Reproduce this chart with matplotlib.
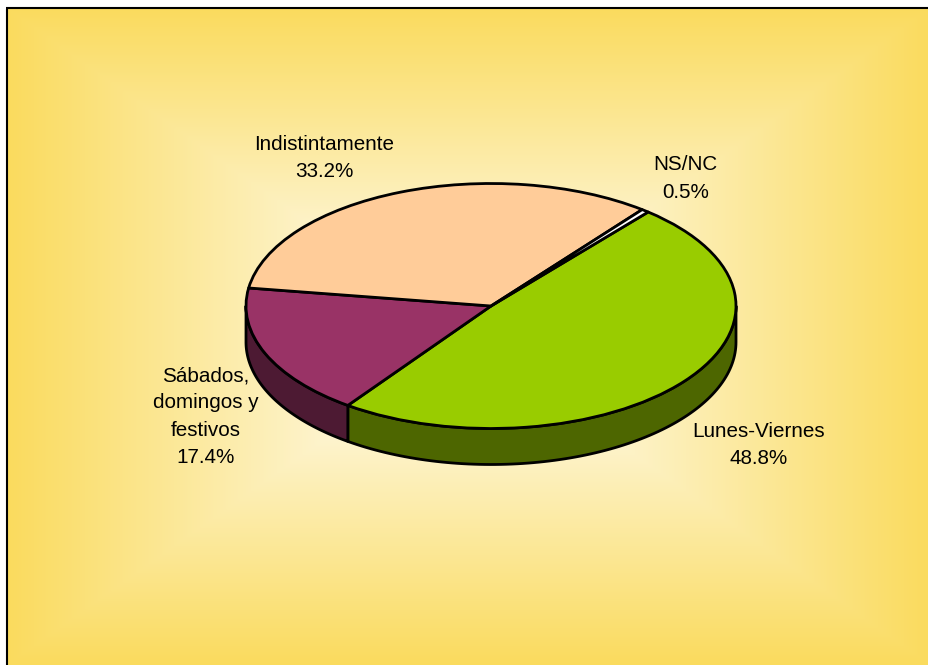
import numpy as np
import matplotlib
matplotlib.use("Agg")
import matplotlib.pyplot as plt
from matplotlib.colors import to_rgb

plt.rcParams['font.family'] = ['Liberation Sans', 'DejaVu Sans']

# Data
categories = ['Lunes-Viernes', 'Sábados,\ndomingos y\nfestivos', 'Indistintamente', 'NS/NC']
values = [48.8, 17.4, 33.2, 0.5]
top_colors = ['#99CC00', '#993366', '#FFCC99', '#FFFFFF']
side_colors = ['#4D6600', '#4D1A33', '#806600', '#808080']

W, H = 929, 665
cx, cy, rx, ry, depth = 491, 306, 245, 122.5, 36
start_angle = 50.1
edge = '#000000'
lw = 2.0

fig = plt.figure(figsize=(W / 100, H / 100), dpi=100, facecolor='white')

# Gradient background
bg = fig.add_axes([0, 0, 1, 1], zorder=0)
bg.set_xlim(0, W); bg.set_ylim(H, 0); bg.axis('off')
x0, y0, x1, y1 = 7.5, 8.5, 929, 665
px = np.arange(x0, x1, 2.0)
py = np.arange(y0, y1, 2.0)
X, Y = np.meshgrid(px, py)
mx, my = (x0 + x1) / 2, (y0 + y1) / 2
t = np.maximum(np.abs(X - mx) / (x1 - mx), np.abs(Y - my) / (y1 - my))
t = np.clip(t, 0, 1)[..., None]
c_edge = np.array(to_rgb('#FADB5E'))
c_mid = np.array(to_rgb('#FFFFFF'))
bg.imshow(c_mid + (c_edge - c_mid) * t, extent=(x0, x1, y1, y0), aspect='auto',
          interpolation='bilinear', zorder=0)
bg.set_xlim(0, W); bg.set_ylim(H, 0)
bg.plot([x0 - 0.5, x0 - 0.5], [y0, y1], color='black', lw=1.5, zorder=2, solid_capstyle='butt')
bg.plot([x0 - 1, x1], [y0 - 0.5, y0 - 0.5], color='black', lw=1.5, zorder=2, solid_capstyle='butt')

# Pie axes: unit circle maps to the ellipse
ax = fig.add_axes([0, 0, 1, 1], zorder=1)
ax.patch.set_alpha(0)
dy = depth / ry

fracs = np.array(values) / sum(values)
bounds = start_angle - 360 * np.concatenate([[0], np.cumsum(fracs)])
for i in range(len(values)):
    a_hi, a_lo = bounds[i], bounds[i + 1]
    # visible front wall: the part of the arc on the lower half
    hi, lo = min(a_hi, 0), max(a_lo, -180)
    if hi > lo:
        th = np.radians(np.linspace(hi, lo, 100))
        xs = np.cos(th)
        ys = np.sin(th)
        ax.fill(np.r_[xs, xs[::-1]], np.r_[ys, ys[::-1] - dy],
                facecolor=side_colors[i], edgecolor=edge, lw=lw, joinstyle='round', zorder=1)

wedges, _ = ax.pie(values, colors=top_colors, startangle=start_angle, counterclock=False,
                   normalize=True, radius=1,
                   wedgeprops=dict(edgecolor=edge, linewidth=lw, joinstyle='round', zorder=2))
ax.set_aspect('auto')
ax.set_xlim(-cx / rx, (W - cx) / rx)
ax.set_ylim((cy - H) / ry, cy / ry)
ax.axis('off')

# Labels
label_pos = [(759, 445), (205.5, 416.5), (324.5, 158), (685.5, 178.5)]
for name, v, (lx, ly) in zip(categories, values, label_pos):
    fig.text(lx / W, 1 - ly / H, f'{name}\n{v}%', ha='center', va='center',
             fontsize=14.9, color='black', linespacing=1.55, zorder=5)

fig.savefig('out.png', dpi=100)
